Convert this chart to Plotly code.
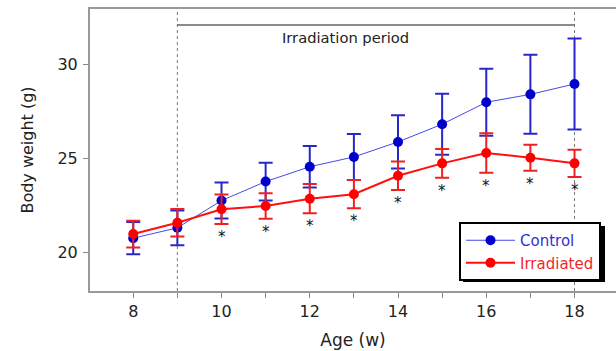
import plotly.graph_objects as go

weeks = [8, 9, 10, 11, 12, 13, 14, 15, 16, 17, 18]
control = [20.75, 21.3, 22.75, 23.76, 24.55, 25.07, 25.87, 26.81, 27.98, 28.40, 28.95]
control_err = [0.86, 0.92, 0.96, 1.0, 1.1, 1.22, 1.42, 1.62, 1.78, 2.1, 2.42]
irradiated = [20.97, 21.57, 22.29, 22.46, 22.85, 23.09, 24.07, 24.73, 25.28, 25.03, 24.73]
irradiated_err = [0.71, 0.73, 0.78, 0.68, 0.78, 0.75, 0.76, 0.76, 1.05, 0.69, 0.72]
star_weeks = [10, 11, 12, 13, 14, 15, 16, 17, 18]
x_ticks = [8, 10, 12, 14, 16, 18]
y_ticks = [20, 25, 30]
period_start, period_end = 9, 18

FONT = "DejaVu Sans"
W, H = 616, 351
ML, MR, MT, MB = 90, 0, 9, 60
PW, PH = W - ML - MR, H - MT - MB

fig = go.Figure()
fig.add_trace(go.Scatter(
    x=weeks, y=control, name="<span style='color:#3030d8'>Control</span>",
    mode="lines+markers",
    line=dict(color="#4a4ae6", width=1),
    marker=dict(color="#0000cc", size=10),
    error_y=dict(type="data", array=control_err, color="#2828c8", thickness=2, width=7),
))
fig.add_trace(go.Scatter(
    x=weeks, y=irradiated, name="<span style='color:#f02828'>Irradiated</span>",
    mode="lines+markers",
    line=dict(color="#ff1010", width=2),
    marker=dict(color="#ff0000", size=10),
    error_y=dict(type="data", array=irradiated_err, color="#f02020", thickness=2, width=7),
))

annotations = []
for w in star_weeks:
    i = weeks.index(w)
    annotations.append(dict(
        x=w, y=irradiated[i] - irradiated_err[i], xref="x", yref="y",
        text="*", showarrow=False, yanchor="top", yshift=-2,
        font=dict(family=FONT, size=15, color="#111"),
    ))
annotations.append(dict(
    x=11.32, y=31.45, xref="x", yref="y", text="Irradiation period",
    showarrow=False, xanchor="left", yanchor="middle",
    font=dict(family=FONT, size=14.7, color="#222"),
))

shapes = [
    dict(type="line", x0=period_start, x1=period_start, y0=0, y1=1, xref="x", yref="paper",
         line=dict(color="#777", width=1, dash="dot"), layer="below"),
    dict(type="line", x0=period_end, x1=period_end, y0=0, y1=1, xref="x", yref="paper",
         line=dict(color="#777", width=1, dash="dot"), layer="below"),
    dict(type="line", x0=period_start, x1=period_end, y0=32.09, y1=32.09, xref="x", yref="y",
         line=dict(color="#666", width=1.5)),
]

# legend box position in pixels
lx0, ly0, lx1, ly1 = 459, 222, 602, 279
def px2paper_x(px):
    return (px - ML) / PW
def px2paper_y(py):
    return (MT + PH - py) / PH
shapes.append(dict(type="rect", xref="paper", yref="paper",
                   x0=px2paper_x(lx0 + 4), x1=px2paper_x(lx1 + 3),
                   y0=px2paper_y(ly1 + 3), y1=px2paper_y(ly0 + 4),
                   fillcolor="black", line=dict(width=0), layer="above"))

fig.update_layout(
    width=W, height=H,
    margin=dict(l=ML, r=MR, t=MT, b=MB, autoexpand=False),
    paper_bgcolor="white", plot_bgcolor="white",
    font=dict(family=FONT, color="#222"),
    showlegend=True,
    legend=dict(
        x=px2paper_x(lx0), y=px2paper_y(ly0), xanchor="left", yanchor="top",
        bgcolor="white", bordercolor="black", borderwidth=2,
        font=dict(family=FONT, size=15), tracegroupgap=0, itemwidth=49,
    ),
    annotations=annotations,
    shapes=shapes,
    xaxis=dict(
        range=[7.02, 18.94], tickvals=x_ticks, ticks="outside", ticklen=5,
        tickcolor="#888", tickwidth=1,
        minor=dict(dtick=1, tick0=8, ticks="outside", ticklen=5, tickcolor="#888"),
        showline=True, linecolor="#999", linewidth=2, mirror=True,
        showgrid=False, zeroline=False,
        tickfont=dict(family=FONT, size=16, color="#222"), ticklabelstandoff=0,
        title=dict(text="Age (w)", font=dict(family=FONT, size=17, color="#222"), standoff=14),
    ),
    yaxis=dict(
        range=[17.94, 32.94], tickvals=y_ticks, ticks="outside", ticklen=5,
        tickcolor="#888", tickwidth=1,
        showline=True, linecolor="#999", linewidth=2,
        showgrid=False, zeroline=False,
        tickfont=dict(family=FONT, size=16, color="#222"), ticklabelstandoff=2,
        title=dict(text="Body weight (g)", font=dict(family=FONT, size=16, color="#222"), standoff=20),
    ),
)

fig.write_html("out.html", config={"displayModeBar": False},
               post_script="document.body.style.margin='0';")
